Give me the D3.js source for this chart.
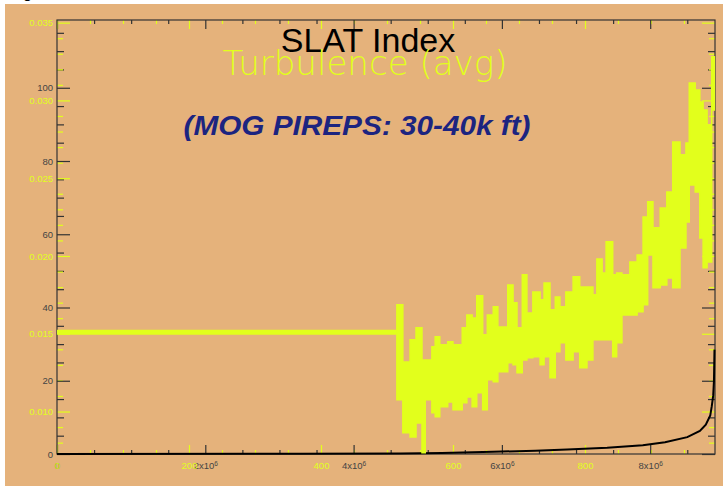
<!DOCTYPE html>
<html>
<head>
<meta charset="utf-8">
<script src="https://cdn.jsdelivr.net/npm/d3@7"></script>
<style>
  body { margin: 0; background: #fff; }
  svg { display: block; }
</style>
</head>
<body>
<svg id="chart" width="723" height="486"></svg>
<script>
// SLAT index (black curve), x in units of 10^6
const slatX = [0, 3.28, 4.63, 5.19, 5.88, 6.45, 6.88, 7.42, 7.90, 8.20, 8.50, 8.67, 8.75, 8.81, 8.83, 8.85, 8.86, 8.867]
const slatY = [0, 0.05, 0.15, 0.3, 0.6, 0.9, 1.2, 1.7, 2.4, 3.2, 4.6, 6.3, 8.0, 10.5, 13, 16, 20, 28.5]

// turbulence (avg), constant part before the reports start
const turbFlatIdx = [0, 515]
const turbFlatVal = [0.0151, 0.0151]

// turbulence (avg), noisy part read as high / low per bin
const turbIdx = [515, 524, 535, 544, 553, 558, 568, 573, 580, 592, 600, 614, 621, 629, 636, 645, 652, 661, 668, 683,
    691, 697, 705, 712, 721, 732, 738, 747, 755, 762, 771, 782, 792, 803, 812, 818, 826, 832, 842, 848,
    856, 868, 879, 888, 895, 903, 914, 924, 933, 944, 953, 958, 967, 974, 979, 985, 992, 996]
const turbHi = [0.01686, 0.01319, 0.01461, 0.01538, 0.01332, 0.01332, 0.01416, 0.0148, 0.01429, 0.01448,
    0.01429, 0.01538, 0.01621, 0.01602, 0.01744, 0.01493, 0.01621, 0.01673, 0.01544, 0.01814,
    0.01699, 0.01538, 0.01879, 0.01634, 0.01769, 0.01718, 0.01827, 0.01654, 0.01737, 0.01673,
    0.01769, 0.01866, 0.01801, 0.01801, 0.0175, 0.01981, 0.01891, 0.02091, 0.01879, 0.01891,
    0.01879, 0.01962, 0.02007, 0.02251, 0.02348, 0.02181, 0.02309, 0.02412, 0.02733, 0.0265,
    0.02727, 0.03112, 0.03067, 0.0299, 0.02939, 0.02843, 0.0328, 0.0328]
const turbLo = [0.01075, 0.00863, 0.00837, 0.00927, 0.00735, 0.01075, 0.00992, 0.00966, 0.0103, 0.01062,
    0.01011, 0.01056, 0.01094, 0.0103, 0.0112, 0.01011, 0.01204, 0.01191, 0.01255, 0.01313,
    0.0130, 0.01249, 0.01332, 0.01345, 0.01352, 0.0130, 0.01352, 0.01217, 0.01384, 0.01442,
    0.01332, 0.01384, 0.01281, 0.01332, 0.01461, 0.01461, 0.01461, 0.01461, 0.01352, 0.01442,
    0.01621, 0.01621, 0.01641, 0.01686, 0.02007, 0.01795, 0.01814, 0.01859, 0.01795, 0.02052,
    0.02219, 0.02457, 0.02412, 0.02116, 0.01924, 0.01962, 0.02939, 0.02939]

// tick labels
const slatYTicks = [0, 20, 40, 60, 80, 100]
const turbYTicks = [0.010, 0.015, 0.020, 0.025, 0.030, 0.035]
const slatXTicks = [0, 2, 4, 6, 8]
const turbXTicks = [0, 200, 400, 600, 800]

const YELLOW = '#e2ff1c'
const AXIS = '#333'

const svg = d3.select('#chart')
const plot = { left: 57, right: 715, top: 20, bottom: 454 }

svg.append('rect')
    .attr('x', 5).attr('y', 4)
    .attr('width', 718).attr('height', 482)
    .attr('fill', '#e5b27b')

// bit of a caption glyph cut off at the top
svg.append('text')
    .attr('x', 23).attr('y', -2)
    .attr('font-family', 'Liberation Sans, Arial, sans-serif')
    .attr('font-size', 16)
    .text('g')

// scales: black = SLAT, yellow = turbulence
const xSlat = d3.scaleLinear().domain([0, 8.874]).range([plot.left, plot.right])
const ySlat = d3.scaleLinear().domain([0, 118.5]).range([plot.bottom, plot.top])
const xTurb = d3.scaleLinear().domain([0, 997]).range([plot.left, plot.right])
const yTurb = d3.scaleLinear().domain([0.00727, 0.03517]).range([plot.bottom, plot.top])

const supSix = d => d === 0 ? '0' : d + 'x10|6'

function addAxis(axis, tx, ty, color, withLabels) {
    let g = svg.append('g')
        .attr('transform', `translate(${tx},${ty})`)
        .call(axis)
        .attr('font-family', 'Liberation Sans, Arial, sans-serif')
        .attr('font-size', 9.5)
    g.select('.domain').remove()
    g.selectAll('line').attr('stroke', color).attr('stroke-width', 1.2)
    g.selectAll('text').attr('fill', withLabels ? color : 'none')
    return g
}

const minorSlatY = d3.range(5, 120, 5).filter(d => d % 20 !== 0)
const minorTurbY = d3.range(8, 36).filter(d => d % 5 !== 0).map(d => d / 1000)
const minorSlatX = d3.range(1, 18).filter(d => d % 4 !== 0).map(d => d / 2)
const minorTurbX = d3.range(50, 1000, 50).filter(d => d % 200 !== 0)

// left / right
addAxis(d3.axisLeft(ySlat).tickValues(minorSlatY).tickSize(-7).tickFormat(''), plot.left, 0, AXIS, false)
addAxis(d3.axisLeft(yTurb).tickValues(minorTurbY).tickSize(-6).tickFormat(''), plot.left, 0, YELLOW, false)
addAxis(d3.axisRight(ySlat).tickValues(minorSlatY).tickSize(-7).tickFormat(''), plot.right, 0, AXIS, false)
addAxis(d3.axisRight(yTurb).tickValues(minorTurbY).tickSize(-6).tickFormat(''), plot.right, 0, YELLOW, false)
addAxis(d3.axisLeft(ySlat).tickValues(slatYTicks).tickSize(-13).tickPadding(4), plot.left, 0, AXIS, true)
    .selectAll('text').attr('fill', '#444')
addAxis(d3.axisLeft(yTurb).tickValues(turbYTicks).tickSize(-13).tickPadding(4).tickFormat(d3.format('.3f')), plot.left, 0, YELLOW, true)
addAxis(d3.axisRight(ySlat).tickValues(slatYTicks).tickSize(-13).tickFormat(''), plot.right, 0, AXIS, false)
addAxis(d3.axisRight(yTurb).tickValues(turbYTicks).tickSize(-13).tickFormat(''), plot.right, 0, YELLOW, false)

// bottom / top
addAxis(d3.axisBottom(xSlat).tickValues(minorSlatX).tickSize(-4).tickFormat(''), 0, plot.bottom, AXIS, false)
addAxis(d3.axisBottom(xTurb).tickValues(minorTurbX).tickSize(-4).tickFormat(''), 0, plot.bottom, YELLOW, false)
addAxis(d3.axisTop(xSlat).tickValues(minorSlatX).tickSize(-4).tickFormat(''), 0, plot.top, AXIS, false)
addAxis(d3.axisTop(xTurb).tickValues(minorTurbX).tickSize(-4).tickFormat(''), 0, plot.top, YELLOW, false)

let xBlack = addAxis(d3.axisBottom(xSlat).tickValues(slatXTicks).tickSize(-9).tickPadding(8).tickFormat(supSix), 0, plot.bottom, AXIS, true)
xBlack.selectAll('text')
    .attr('fill', '#444')
    .each(function () {
        let parts = d3.select(this).text().split('|')
        if (parts.length < 2) return
        let t = d3.select(this).text(parts[0])
        t.append('tspan').attr('dy', '-0.45em').attr('font-size', 6.5).text(parts[1])
    })
addAxis(d3.axisBottom(xTurb).tickValues(turbXTicks).tickSize(-9).tickPadding(8), 0, plot.bottom, YELLOW, true)
addAxis(d3.axisTop(xSlat).tickValues(slatXTicks).tickSize(-9).tickFormat(''), 0, plot.top, AXIS, false)
addAxis(d3.axisTop(xTurb).tickValues(turbXTicks).tickSize(-9).tickFormat(''), 0, plot.top, YELLOW, false)

// frame
svg.append('rect')
    .attr('x', plot.left).attr('y', plot.top)
    .attr('width', plot.right - plot.left).attr('height', plot.bottom - plot.top)
    .attr('fill', 'none')
    .attr('stroke', AXIS)
    .attr('stroke-width', 1.2)

// SLAT index curve
const slatLine = d3.line()
    .x(d => xSlat(d[0]))
    .y(d => ySlat(d[1]))
svg.append('path')
    .datum(d3.zip(slatX, slatY))
    .attr('d', slatLine)
    .attr('fill', 'none')
    .attr('stroke', '#000')
    .attr('stroke-width', 2)

// turbulence: constant part
svg.append('path')
    .datum(d3.zip(turbFlatIdx, turbFlatVal))
    .attr('d', d3.line().x(d => xTurb(d[0])).y(d => yTurb(d[1])))
    .attr('fill', 'none')
    .attr('stroke', YELLOW)
    .attr('stroke-width', 5)

// turbulence: noisy band
const turbArea = d3.area()
    .x(d => xTurb(d[0]))
    .y0(d => yTurb(d[2]))
    .y1(d => yTurb(d[1]))
    .curve(d3.curveStepAfter)
svg.append('path')
    .datum(d3.zip(turbIdx, turbHi, turbLo))
    .attr('d', turbArea)
    .attr('fill', YELLOW)
    .attr('stroke', YELLOW)
    .attr('stroke-width', 1.5)

// titles
svg.append('text')
    .attr('x', 368).attr('y', 52)
    .attr('text-anchor', 'middle')
    .attr('font-family', 'Liberation Sans, Arial, sans-serif')
    .attr('font-size', 34)
    .attr('fill', '#000')
    .text('SLAT Index')

svg.append('text')
    .attr('x', 365).attr('y', 75)
    .attr('text-anchor', 'middle')
    .attr('font-family', 'DejaVu Sans, sans-serif')
    .attr('font-weight', 200)
    .attr('font-size', 33)
    .attr('textLength', 285)
    .attr('lengthAdjust', 'spacingAndGlyphs')
    .attr('fill', YELLOW)
    .text('Turbulence (avg)')

svg.append('text')
    .attr('x', 357).attr('y', 135)
    .attr('text-anchor', 'middle')
    .attr('font-family', 'Liberation Sans, Arial, sans-serif')
    .attr('font-weight', 'bold')
    .attr('font-style', 'italic')
    .attr('font-size', 28)
    .attr('textLength', 347)
    .attr('lengthAdjust', 'spacingAndGlyphs')
    .attr('fill', '#1c2480')
    .text('(MOG PIREPS: 30-40k ft)')
</script>
</body>
</html>
